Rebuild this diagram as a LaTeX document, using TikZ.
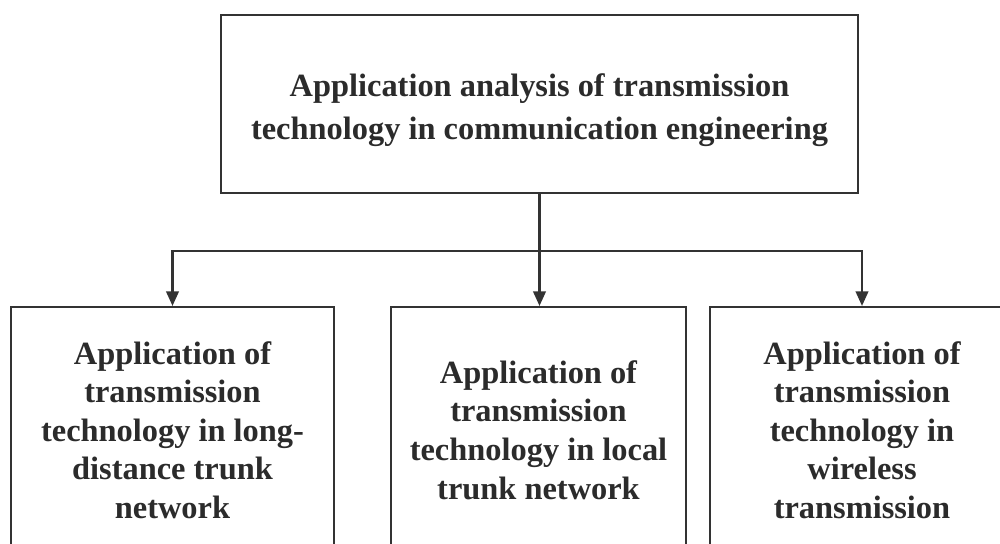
\documentclass[tikz,border=0pt]{standalone}
\usepackage{fontspec}
\setmainfont{Liberation Serif}
\usetikzlibrary{arrows.meta}
\definecolor{linec}{HTML}{333333}
\definecolor{textc}{HTML}{2B2B2B}
\begin{document}
\begin{tikzpicture}[x=0.75pt,y=-0.75pt,
  box/.style={draw=linec, line width=1.6pt, fill=white, inner sep=0pt, align=center, text=textc},
  topfont/.style={font=\fontsize{24.3}{32.3}\selectfont\bfseries},
  lowfont/.style={font=\fontsize{24.3}{28.9}\selectfont\bfseries},
  conn/.style={draw=linec, line width=1.6pt},
  arr/.style={conn, -{Triangle[length=11pt,width=9.5pt]}}]
\clip (0,0) rectangle (1000,543);
\fill[white] (0,0) rectangle (1000,543);
\node[box, minimum width=477.75pt, minimum height=133.5pt] (top) at (539.5,104) {};
\node[topfont, align=center, text=textc, inner sep=0pt] (toptext) at (539.5,110)
  {Application analysis of transmission\\technology in communication engineering};
\node[box, lowfont, minimum width=242.25pt, minimum height=184.5pt] (left) at (172.5,430)
  {Application of\\transmission\\technology in long-\\distance trunk\\network};
\node[box, lowfont, minimum width=221.25pt, minimum height=184.5pt] (mid) at (538.5,430)
  {Application of\\transmission\\technology in local\\trunk network};
\node[box, lowfont, minimum width=228pt, minimum height=184.5pt] (right) at (862,430)
  {Application of\\transmission\\technology in\\wireless\\transmission};
\coordinate (j) at (539.5,251);
\draw[conn] (top.south) -- (j);
\draw[arr] (j) -| (left.north);
\draw[arr] (j) -| (right.north);
\draw[arr] (j) -- (j |- mid.north);
\end{tikzpicture}
\end{document}
